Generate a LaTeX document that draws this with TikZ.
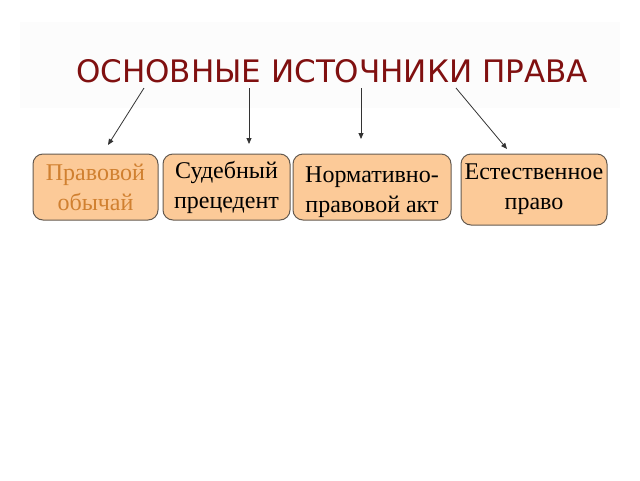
\documentclass[tikz,border=0pt]{standalone}
\usepackage{fontspec}
\setmainfont{Liberation Serif}
\newfontfamily\titlefont{DejaVu Sans}
\usetikzlibrary{arrows.meta}
\usetikzlibrary{positioning}

\definecolor{titlered}{RGB}{128,16,16}
\definecolor{boxfill}{RGB}{252,202,152}
\definecolor{boxline}{RGB}{100,90,80}
\definecolor{orangetext}{RGB}{208,128,48}
\definecolor{titleback}{RGB}{252,252,252}

\tikzset{
  source/.style={draw=boxline, fill=boxfill, line width=1pt, rounded corners=10pt,
    minimum height=66pt, align=center, inner sep=0pt,
    font=\fontsize{24}{30}\selectfont},
  link/.style={-{Triangle[width=5pt,length=6pt]}, draw=black!80, line width=0.8pt}
}

\begin{document}
\begin{tikzpicture}[x=1pt, y=-1pt]

\useasboundingbox (0,0) rectangle (640,480);

\fill[titleback] (20,22) rectangle (620,108);

\node[anchor=base, text=titlered, font=\titlefont\fontsize{31}{36}\selectfont] at (332,82) (title) {ОСНОВНЫЕ ИСТОЧНИКИ ПРАВА};

\node[source, minimum width=125pt, text=orangetext] at (95.5,187) (b1) {Правовой\\обычай};
\node[source, minimum width=127pt] at (226.5,187) (b2) {Судебный\\прецедент};
\node[source, minimum width=158pt] at (372,187) (b3) {\rule{0pt}{26pt}Нормативно-\\правовой акт};
\node[source, minimum width=146pt, minimum height=71pt] at (534,189.5) (b4) {Естественное\\право};

\coordinate (s1) at (144,88);
\coordinate (s2) at (249,88);
\coordinate (s3) at (361,88);
\coordinate (s4) at (456,88);
\coordinate (e1) at (108,145);
\coordinate (e2) at (249,144);
\coordinate (e3) at (361,139);
\coordinate (e4) at (507,149);

\draw[link] (s1) -- (e1);
\draw[link] (s2) -- (e2);
\draw[link] (s3) -- (e3);
\draw[link] (s4) -- (e4);

\end{tikzpicture}
\end{document}
